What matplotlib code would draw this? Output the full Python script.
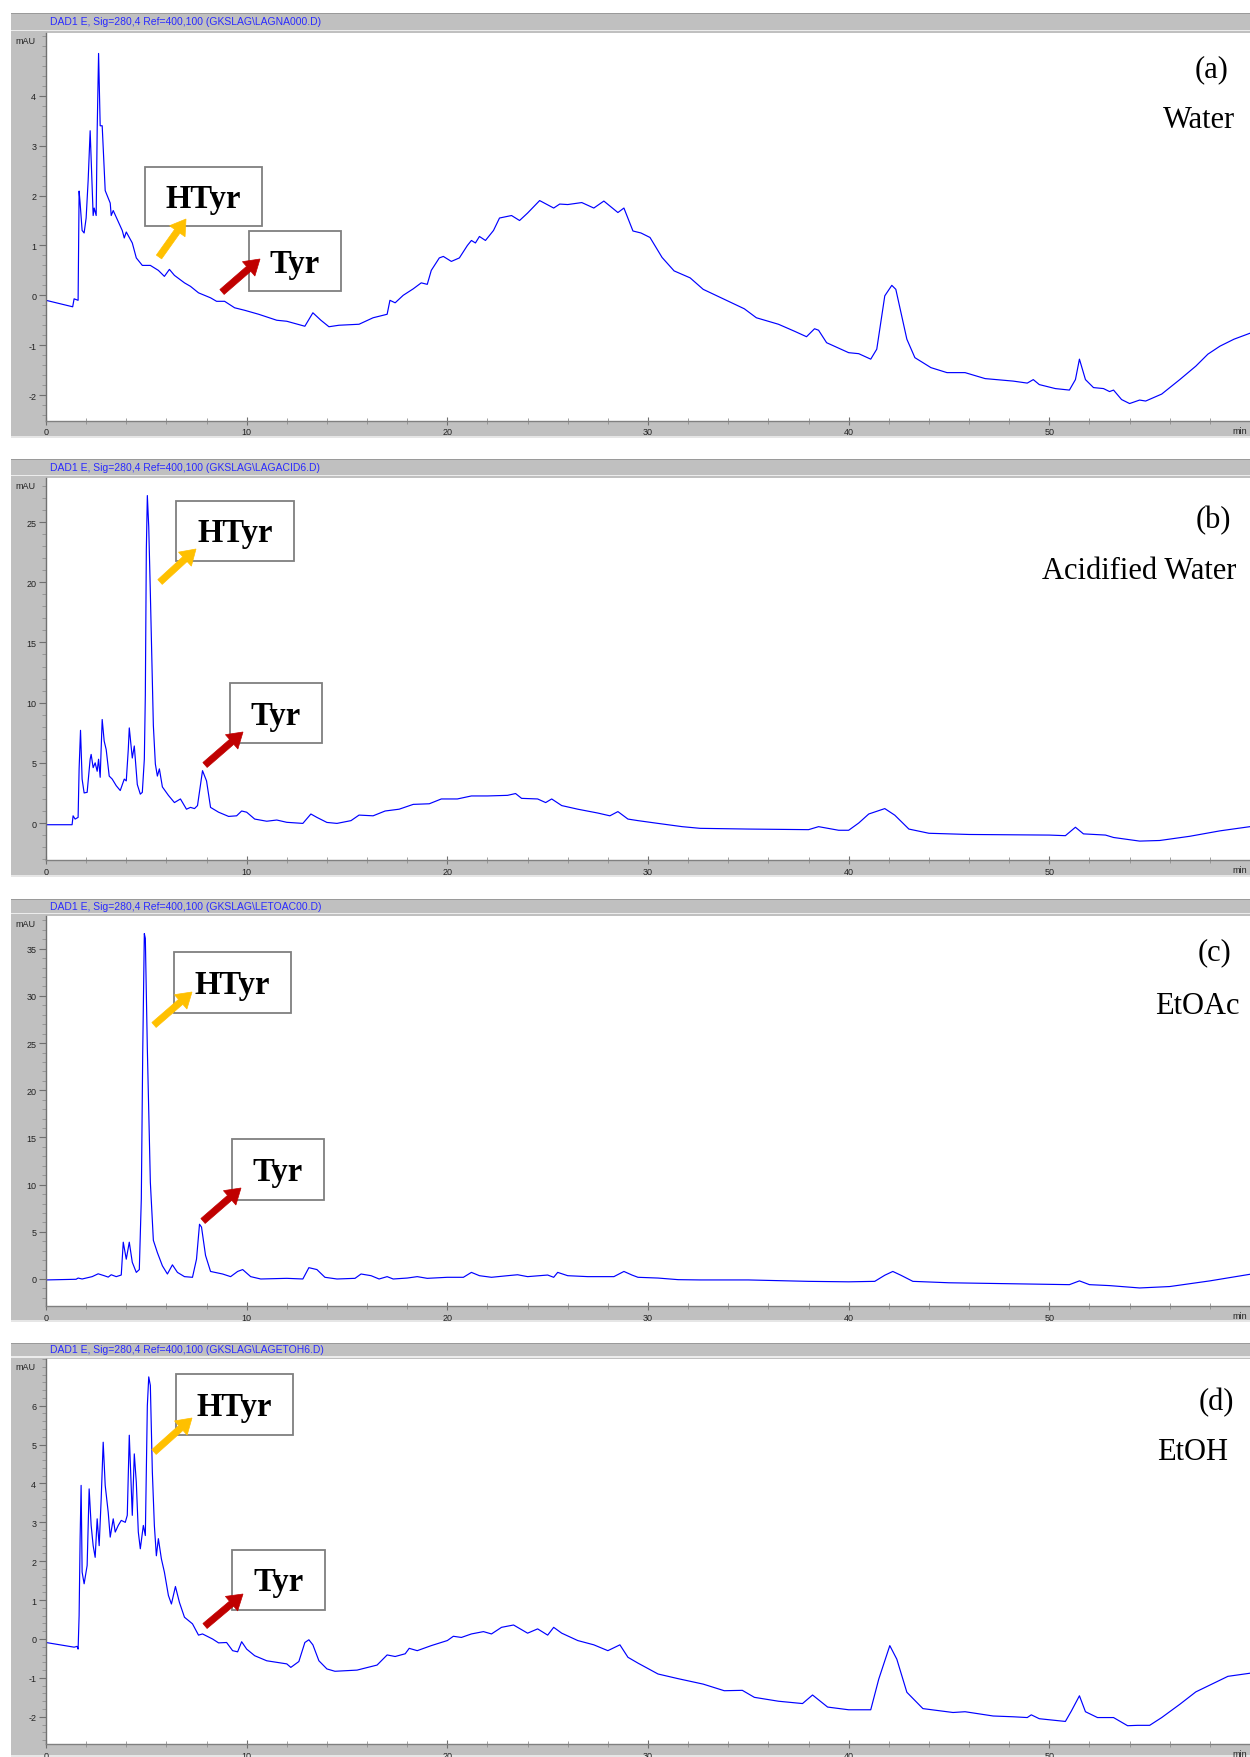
import matplotlib
matplotlib.use("Agg")
import matplotlib.pyplot as plt
from matplotlib.patches import Rectangle, FancyArrow
from matplotlib.ticker import MultipleLocator, FixedLocator

# ---------------- data (retention time in min, absorbance in mAU) ----------------
t_water = [0, 1.33, 1.4, 1.6, 1.65, 1.7, 1.8, 1.9, 2.0, 2.1, 2.2, 2.35, 2.4, 2.5, 2.55, 2.62,
           2.7, 2.8, 2.95, 3.2, 3.25, 3.35, 3.8, 3.9, 4.0, 4.3, 4.5, 4.8, 5.2, 5.6, 5.9, 6.15,
           6.4, 6.9, 7.2, 7.6, 8.2, 8.5, 8.9, 9.4, 9.9, 10.6, 11.5, 12.0, 12.9, 13.3, 13.7,
           14.1, 14.6, 15.6, 16.3, 17.0, 17.14, 17.4, 17.8, 18.3, 18.7, 19.0, 19.2, 19.6, 19.8,
           20.2, 20.6, 21.0, 21.2, 21.4, 21.6, 21.9, 22.3, 22.6, 23.2, 23.6, 24.0, 24.6, 25.3,
           25.6, 26.0, 26.7, 27.3, 27.8, 28.5, 28.8, 29.25, 29.65, 30.1, 30.7, 31.3, 32.1,
           32.75, 33.8, 34.8, 35.4, 36.5, 37.3, 37.9, 38.3, 38.5, 38.9, 40.0, 40.5, 41.1, 41.4,
           41.8, 42.15, 42.35, 42.9, 43.3, 44.1, 44.9, 45.8, 46.8, 48.2, 48.9, 49.2, 49.5,
           50.3, 51.0, 51.3, 51.5, 51.8, 52.2, 52.7, 53.0, 53.2, 53.6, 54.0, 54.5, 54.8, 55.6,
           56.5, 57.3, 57.9, 58.5, 59.2, 60.0]
y_water = [-0.1, -0.23, -0.07, -0.1, 2.09, 1.85, 1.3, 1.25, 1.55, 2.3, 3.3, 1.6, 1.75, 1.6, 3.3, 4.85,
           3.4, 3.4, 2.1, 1.85, 1.6, 1.7, 1.3, 1.15, 1.27, 1.05, 0.75, 0.6, 0.6, 0.5, 0.38, 0.52,
           0.4, 0.25, 0.18, 0.05, -0.05, -0.12, -0.12, -0.25, -0.3, -0.38, -0.5, -0.52, -0.62, -0.35, -0.5,
           -0.63, -0.6, -0.58, -0.45, -0.38, -0.1, -0.15, 0.0, 0.13, 0.25, 0.22, 0.5, 0.75, 0.78,
           0.68, 0.75, 1.0, 1.1, 1.05, 1.18, 1.1, 1.3, 1.55, 1.6, 1.5, 1.65, 1.9, 1.75,
           1.83, 1.82, 1.86, 1.75, 1.89, 1.66, 1.75, 1.29, 1.25, 1.16, 0.76, 0.49, 0.35,
           0.12, -0.08, -0.27, -0.45, -0.58, -0.72, -0.83, -0.67, -0.7, -0.95, -1.15, -1.17, -1.28, -1.08,
           -0.01, 0.2, 0.12, -0.88, -1.25, -1.45, -1.55, -1.55, -1.67, -1.72, -1.76, -1.69, -1.79,
           -1.87, -1.9, -1.69, -1.28, -1.69, -1.85, -1.87, -1.93, -1.9, -2.09, -2.17, -2.1, -2.12, -1.98,
           -1.69, -1.42, -1.18, -1.02, -0.88, -0.76]

t_acid = [0, 1.3, 1.35, 1.45, 1.6, 1.65, 1.72, 1.8, 1.9, 2.05, 2.2, 2.25, 2.35, 2.45, 2.55, 2.62,
          2.7, 2.8, 2.9, 3.0, 3.15, 3.3, 3.5, 3.7, 3.9, 4.0, 4.1, 4.15, 4.3, 4.4, 4.55, 4.7, 4.8,
          4.9, 4.95, 5.0, 5.05, 5.12, 5.2, 5.35, 5.45, 5.55, 5.65, 5.8, 6.1, 6.4, 6.7, 7.0, 7.2,
          7.4, 7.55, 7.8, 8.0, 8.2, 8.6, 9.1, 9.5, 9.75, 10.0, 10.4, 11.0, 11.5, 12.0, 12.8, 13.2,
          13.5, 14.0, 14.5, 15.2, 15.6, 16.3, 16.9, 17.6, 18.3, 19.1, 19.7, 20.5, 21.2, 22.0,
          23.0, 23.4, 23.7, 24.5, 24.9, 25.2, 25.7, 26.5, 27.5, 28.1, 28.5, 29.0, 29.5, 30.5,
          31.7, 32.6, 35.0, 38.0, 38.5, 39.5, 40.0, 40.5, 41.0, 41.8, 42.3, 43.0, 44.0, 46.0,
          50.0, 50.8, 51.3, 51.7, 52.8, 53.2, 54.5, 55.5, 57.0, 58.5, 60.0]
y_acid = [-0.14, -0.14, 0.6, 0.33, 0.47, 4.5, 7.7, 3.65, 2.5, 2.55, 5.3, 5.7, 4.6, 5.0, 4.3, 5.3,
          3.8, 8.6, 6.8, 6.1, 3.9, 3.65, 3.1, 2.7, 3.65, 3.5, 6.1, 7.9, 5.4, 6.4, 3.2, 2.4, 2.55,
          5.3, 10.6, 22.7, 27.2, 24.6, 19.1, 8.1, 4.9, 3.9, 4.5, 3.0, 2.3, 1.7, 2.0, 1.15, 1.3,
          1.2, 1.45, 4.35, 3.5, 1.3, 0.9, 0.55, 0.6, 1.0, 0.9, 0.33, 0.15, 0.25, 0.06, -0.03, 0.75,
          0.47, 0.05, -0.03, 0.2, 0.66, 0.6, 1.0, 1.15, 1.55, 1.6, 2.0, 2.0, 2.25, 2.25,
          2.3, 2.45, 2.05, 2.0, 1.7, 2.0, 1.45, 1.15, 0.83, 0.6, 0.95, 0.33, 0.2, -0.03,
          -0.3, -0.44, -0.5, -0.55, -0.3, -0.6, -0.6, 0.0, 0.75, 1.2, 0.65, -0.5, -0.85, -0.95,
          -1.0, -1.05, -0.35, -0.9, -1.0, -1.2, -1.5, -1.45, -1.1, -0.65, -0.3]

t_etoac = [0, 1.5, 1.6, 1.8, 2.3, 2.6, 2.9, 3.1, 3.25, 3.5, 3.75, 3.85, 4.0, 4.15, 4.3, 4.5,
           4.65, 4.75, 4.82, 4.9, 4.95, 5.05, 5.2, 5.35, 5.55, 5.8, 6.05, 6.3, 6.55, 6.9, 7.3,
           7.5, 7.65, 7.75, 7.95, 8.2, 8.8, 9.2, 9.55, 9.8, 10.2, 10.7, 12.0, 12.8, 13.1, 13.5,
           13.9, 14.5, 15.4, 15.7, 16.2, 16.6, 17.0, 17.3, 18.0, 18.5, 19.0, 20.0, 20.8, 21.2,
           21.6, 22.2, 23.0, 23.5, 24.0, 25.0, 25.3, 25.5, 26.0, 27.0, 28.3, 28.8, 29.2, 29.5,
           30.5, 31.5, 32.6, 35.0, 38.0, 40.0, 41.3, 41.8, 42.2, 42.6, 43.2, 45.0, 48.0, 51.0,
           51.5, 52.0, 53.0, 54.5, 56.0, 58.0, 60.0]
y_etoac = [-0.1, -0.03, 0.1, 0.0, 0.25, 0.55, 0.35, 0.2, 0.45, 0.25, 0.42, 3.9, 2.1, 3.9, 1.77, 0.7,
           1.0, 8.5, 24.0, 36.6, 36.1, 24.4, 10.25, 4.1, 2.8, 1.4, 0.53, 1.5, 0.7, 0.25, 0.18,
           2.1, 5.8, 5.5, 2.5, 0.8, 0.53, 0.25, 0.8, 1.0, 0.25, 0.0, 0.07, 0.0, 1.2, 1.0,
           0.18, 0.0, 0.07, 0.53, 0.35, 0.0, 0.25, 0.0, 0.1, 0.25, 0.07, 0.18, 0.18, 0.7,
           0.35, 0.18, 0.35, 0.45, 0.25, 0.42, 0.18, 0.7, 0.35, 0.25, 0.25, 0.8, 0.42, 0.18,
           0.1, -0.07, -0.1, -0.1, -0.25, -0.3, -0.25, 0.4, 0.8, 0.4, -0.25, -0.4, -0.5, -0.6,
           -0.2, -0.6, -0.7, -0.95, -0.8, -0.2, 0.5]

t_etoh = [0, 1.4, 1.55, 1.6, 1.65, 1.7, 1.75, 1.8, 1.9, 2.05, 2.15, 2.25, 2.35, 2.45, 2.55, 2.65,
          2.75, 2.85, 2.95, 3.1, 3.2, 3.35, 3.45, 3.6, 3.75, 3.95, 4.05, 4.15, 4.3, 4.4, 4.5,
          4.6, 4.7, 4.85, 4.95, 5.05, 5.12, 5.2, 5.3, 5.4, 5.5, 5.6, 5.75, 5.9, 6.1, 6.25, 6.45,
          6.65, 6.9, 7.3, 7.6, 7.8, 8.3, 8.6, 9.0, 9.3, 9.55, 9.75, 10.0, 10.4, 11.0, 12.0,
          12.2, 12.6, 12.9, 13.1, 13.3, 13.6, 14.0, 14.4, 15.5, 16.5, 17.0, 17.4, 17.9, 18.1,
          18.5, 19.2, 20.0, 20.3, 20.7, 21.2, 21.8, 22.2, 22.7, 23.3, 23.8, 24.0, 24.5, 25.0,
          25.3, 25.7, 26.5, 27.3, 28.0, 28.6, 29.0, 29.5, 30.5, 31.5, 32.75, 33.8, 34.7, 35.3,
          36.5, 37.7, 38.2, 38.95, 40.0, 41.1, 41.5, 42.05, 42.4, 42.9, 43.7, 45.2, 45.8, 47.2,
          48.2, 48.9, 49.1, 49.5, 50.8, 51.1, 51.5, 51.8, 52.4, 53.2, 53.9, 54.4, 55.0, 55.6,
          56.5, 57.3, 58.1, 58.9, 60.0]
y_etoh = [-0.09, -0.21, -0.19, -0.26, 0.6, 2.58, 3.95, 1.72, 1.42, 1.89, 3.86, 2.92, 2.4, 2.1, 3.09, 2.4,
          3.6, 5.06, 3.95, 3.26, 2.62, 3.09, 2.75, 2.92, 3.05, 3.0, 3.18, 5.24, 3.18, 4.76, 4.03,
          2.75, 2.32, 2.92, 2.66, 6.0, 6.74, 6.52, 4.29, 2.92, 2.14, 2.58, 2.06, 1.72, 1.12, 0.9, 1.35,
          0.94, 0.56, 0.39, 0.1, 0.13, 0.0, -0.1, -0.09, -0.3, -0.33, -0.07, -0.26, -0.43, -0.56, -0.64,
          -0.73, -0.58, -0.09, -0.02, -0.15, -0.56, -0.77, -0.83, -0.8, -0.67, -0.41, -0.45, -0.38, -0.24,
          -0.3, -0.17, -0.04, 0.07, 0.04, 0.13, 0.19, 0.13, 0.3, 0.36, 0.21, 0.15, 0.26, 0.1,
          0.3, 0.15, -0.04, -0.15, -0.3, -0.15, -0.47, -0.62, -0.9, -1.02, -1.16, -1.33, -1.32, -1.5,
          -1.6, -1.66, -1.44, -1.75, -1.82, -1.82, -1.03, -0.17, -0.52, -1.37, -1.79, -1.89, -1.87, -1.98,
          -2.0, -2.02, -1.95, -2.05, -2.12, -1.85, -1.46, -1.87, -2.02, -2.02, -2.23, -2.22, -2.22, -2.02,
          -1.68, -1.36, -1.16, -0.96, -0.88]

panel_letters = ["(a)", "(b)", "(c)", "(d)"]
panel_solvents = ["Water", "Acidified Water", "EtOAc", "EtOH"]
header_files = ["LAGNA000.D", "LAGACID6.D", "LETOAC00.D", "LAGETOH6.D"]
y_limits = [(-2.51, 5.27), (-3.07, 28.7), (-2.83, 38.5), (-2.7, 7.2)]
y_major = [[-2, -1, 0, 1, 2, 3, 4], [0, 5, 10, 15, 20, 25], [0, 5, 10, 15, 20, 25, 30, 35],
           [-2, -1, 0, 1, 2, 3, 4, 5, 6]]
y_minor_step = [0.2, 1, 1, 0.2]
x_major = [0, 10, 20, 30, 40, 50]

series = [(t_water, y_water), (t_acid, y_acid), (t_etoac, y_etoac), (t_etoh, y_etoh)]

# ---------------- layout (pixels, top-left origin) ----------------
W, H = 1250, 1758
rows = [(14, 33.5, 421.5, 439), (460, 478.5, 861, 878), (900, 916.7, 1306.7, 1323),
        (1344, 1360, 1745, 1758)]
AX_L = 46
letter_pos = [((1229, 70), (1235, 118)), ((1231, 521), (1236, 569)),
              ((1231, 953), (1240, 1004)), ((1234, 1403), (1228, 1450))]
htyr_box = [(145, 168, 262, 227), (176, 502, 294, 562), (174, 953, 291, 1014), (176, 1375, 293, 1436)]
htyr_arrow = [((159, 258), (186, 220)), ((160, 583), (196, 550)), ((154, 1026), (192, 993)),
              ((154, 1453), (192, 1419))]
tyr_box = [(249, 232, 341, 292), (230, 684, 322, 744), (232, 1140, 324, 1201), (232, 1551, 325, 1611)]
tyr_arrow = [((222, 293), (260, 260)), ((205, 766), (243, 733)), ((203, 1222), (241, 1189)),
             ((205, 1627), (243, 1595))]

fig = plt.figure(figsize=(W / 100, H / 100), dpi=100)
fig.patch.set_facecolor("white")


def fx(x):
    return x / W


def fy(y):
    return 1 - y / H


def rect(x0, y0, x1, y1, color, z=-5, ec="none", lw=0):
    r = Rectangle((fx(x0), fy(y1)), fx(x1) - fx(x0), fy(y0) - fy(y1), transform=fig.transFigure,
                  facecolor=color, edgecolor=ec, linewidth=lw, zorder=z)
    fig.add_artist(r)


def arrow(p0, p1, color):
    x0, y0 = p0
    x1, y1 = p1
    a = FancyArrow(x0 / 100, (H - y0) / 100, (x1 - x0) / 100, -(y1 - y0) / 100,
                   width=0.065, head_width=0.19, head_length=0.15, length_includes_head=True,
                   transform=fig.dpi_scale_trans, facecolor=color, edgecolor=color, linewidth=0.5,
                   zorder=20)
    fig.add_artist(a)


GRAY = "#c0c0c0"
for i, (ht, pt, axy, bot) in enumerate(rows):
    rect(11, ht, W, bot, GRAY, z=-6)
    rect(11, ht, W, ht + 1, "#9a9a9a", z=-5)
    rect(11, pt - 3, W, pt - 1.5, "#ececec", z=-5)
    rect(11, bot - 2, W, bot, "#e6e6e6", z=-5)
    fig.text(fx(50), fy((ht + pt - 3) / 2), "DAD1 E, Sig=280,4 Ref=400,100 (GKSLAG\\" + header_files[i] + ")",
             color="#2a2aff", fontsize=7.5, family="Liberation Sans", ha="left", va="center")

    ax = fig.add_axes([fx(AX_L), fy(axy), fx(W) - fx(AX_L), fy(pt) - fy(axy)])
    ax.set_facecolor("white")
    t, y = series[i]
    ax.plot(t, y, color="#0000ff", lw=0.85)
    ax.set_xlim(0, 60)
    ax.set_ylim(*y_limits[i])
    for s in ["top", "right"]:
        ax.spines[s].set_visible(False)
    ax.spines["left"].set_color("#707070")
    ax.spines["bottom"].set_color("#808080")
    ax.spines["left"].set_linewidth(1.0)
    ax.spines["bottom"].set_linewidth(1.0)
    ax.xaxis.set_major_locator(FixedLocator(x_major))
    ax.xaxis.set_minor_locator(MultipleLocator(2))
    ax.yaxis.set_major_locator(FixedLocator(y_major[i]))
    ax.yaxis.set_minor_locator(MultipleLocator(y_minor_step[i]))
    ax.tick_params(axis="y", which="major", direction="out", length=5, width=0.8, color="#707070",
                   labelsize=6.5, labelcolor="#222222", pad=2)
    ax.tick_params(axis="y", which="minor", direction="out", length=3, width=0.6, color="#909090")
    ax.tick_params(axis="x", which="major", direction="inout", length=6, width=0.8, color="#707070",
                   labelsize=6.5, labelcolor="#222222", pad=2)
    ax.tick_params(axis="x", which="minor", direction="inout", length=4, width=0.6, color="#909090")
    ax.set_yticklabels([str(v) for v in y_major[i]])
    ax.set_xticklabels([str(v) for v in x_major])
    for lab in ax.get_xticklabels() + ax.get_yticklabels():
        lab.set_family("Liberation Sans")

    fig.text(fx(25), fy(pt + 8), "mAU", fontsize=6.5, family="Liberation Sans", color="#222222",
             ha="center", va="center")
    fig.text(fx(1232), fy(axy + 10), "min", fontsize=6.5, family="Liberation Sans", color="#222222",
             ha="left", va="center")

    (lx, lyc), (sx, syc) = letter_pos[i]
    fig.text(fx(lx), fy(lyc + 7.5), panel_letters[i], fontsize=22, family="Liberation Serif",
             ha="right", va="baseline", zorder=20)
    fig.text(fx(sx), fy(syc + 10), panel_solvents[i], fontsize=22, family="Liberation Serif",
             ha="right", va="baseline", zorder=20)

    for box, label in ((htyr_box[i], "HTyr"), (tyr_box[i], "Tyr")):
        x0, y0, x1, y1 = box
        rect(x0, y0, x1, y1, "white", z=15, ec="#7f7f7f", lw=1.3)
        cx, cy = (x0 + x1) / 2, (y0 + y1) / 2
        fig.text(fx(cx), fy(cy + 10.5), label, fontsize=23.5, family="Liberation Serif",
                 weight="bold", ha="center", va="baseline", zorder=21)
    arrow(htyr_arrow[i][0], htyr_arrow[i][1], "#ffc000")
    arrow(tyr_arrow[i][0], tyr_arrow[i][1], "#c00000")

fig.savefig("out.png", dpi=100, facecolor="white")
